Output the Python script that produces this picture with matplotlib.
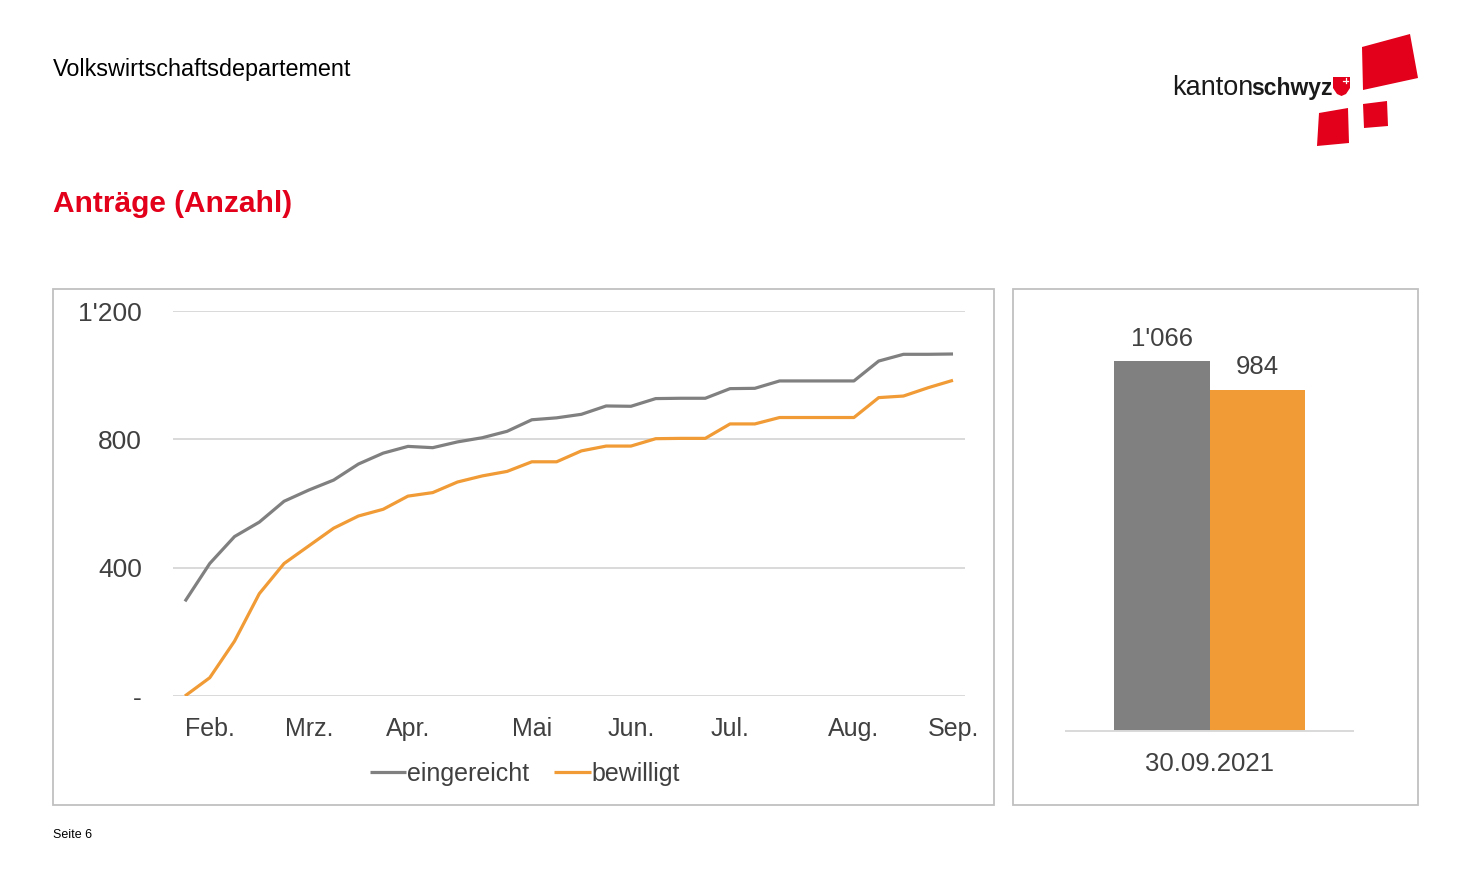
import matplotlib
matplotlib.use("Agg")
import matplotlib.pyplot as plt
from matplotlib.patches import Rectangle, Polygon
from matplotlib.lines import Line2D

plt.rcParams['font.family'] = ['Liberation Sans Narrow', 'Liberation Sans', 'DejaVu Sans']

# weekly cumulative counts, Feb - Sep 2021
eingereicht = [295, 413, 497, 542, 607, 642, 673, 723, 757, 778, 774, 792, 805, 825,
               861, 867, 878, 904, 903, 927, 928, 928, 958, 959, 982, 982, 982, 982,
               1044, 1065, 1065, 1066]
bewilligt = [0, 57, 171, 319, 413, 468, 523, 561, 582, 623, 634, 667, 686, 700,
             730, 730, 764, 779, 779, 802, 803, 803, 848, 848, 868, 868, 868, 868,
             930, 935, 961, 984]
month_idx = [1, 5, 9, 14, 18, 22, 27, 31]
month_labels = ["Feb.", "Mrz.", "Apr.", "Mai", "Jun.", "Jul.", "Aug.", "Sep."]
y_ticks = [0, 400, 800, 1200]
y_labels = ["-", "400", "800", "1'200"]

stand = "30.09.2021"
total_values = [1066, 984]
total_labels = ["1'066", "984"]

GRAY = '#808080'
ORANGE = '#F09B35'
TXT = '#404040'
RED = '#E2001A'

W, H = 1483, 891
fig = plt.figure(figsize=(W / 100, H / 100), dpi=100)


def fx(x):
    return x / W


def fy(y):
    return 1 - y / H


def box(x0, y0, x1, y1):
    return [fx(x0), fy(y1), fx(x1) - fx(x0), fy(y0) - fy(y1)]


# panel frames
for x0, x1 in [(53, 994), (1013, 1418)]:
    fig.patches.append(Rectangle((fx(x0), fy(805)), fx(x1) - fx(x0), fy(289) - fy(805),
                                 transform=fig.transFigure, fill=False,
                                 edgecolor='#c0c0c0', lw=1.3))

# line chart
ax = fig.add_axes(box(172.6, 311, 965.4, 696))
x = list(range(len(eingereicht)))
ax.plot(x, eingereicht, color=GRAY, lw=2.3, label="eingereicht", solid_capstyle='butt')
ax.plot(x, bewilligt, color=ORANGE, lw=2.3, label="bewilligt", solid_capstyle='butt')
ax.set_xlim(-0.5, len(x) - 0.5)
ax.set_ylim(0, 1200)
ax.set_yticks(y_ticks)
ax.set_yticklabels(y_labels)
ax.set_xticks(month_idx)
ax.set_xticklabels(month_labels)
ax.grid(axis='y', color='#d9d9d9', lw=1.4)
ax.set_axisbelow(True)
for s in ax.spines.values():
    s.set_visible(False)
ax.tick_params(axis='y', length=0, pad=22, labelsize=19, labelcolor=TXT)
ax.tick_params(axis='x', length=0, pad=15, labelsize=18, labelcolor=TXT)

ax.legend(loc='center', bbox_to_anchor=(fx(525), fy(774)), bbox_transform=fig.transFigure,
          ncol=2, frameon=False, fontsize=18, labelcolor=TXT, handlelength=1.45,
          handletextpad=0.05, columnspacing=1.0)

# bar chart
bx = fig.add_axes(box(1066, 731 - 1200 * 0.347, 1353, 731))
pos = [-0.25, 0.25]
bx.bar(pos, total_values, width=0.5, color=[GRAY, ORANGE])
bx.set_xlim(-0.75, 0.75)
bx.set_ylim(0, 1200)
for p, v, t in zip(pos, total_values, total_labels):
    bx.text(p, v + 30, t, ha='center', va='bottom', fontsize=18.5, color=TXT)
bx.set_xticks([0])
bx.set_xticklabels([stand])
bx.set_yticks([])
for k in ['top', 'left', 'right']:
    bx.spines[k].set_visible(False)
bx.spines['bottom'].set_color('#d9d9d9')
bx.spines['bottom'].set_linewidth(1.4)
bx.tick_params(axis='x', length=0, pad=15, labelsize=18.5, labelcolor=TXT)

# header
fig.text(fx(53), fy(76), "Volkswirtschaftsdepartement", fontsize=16.8, color='black',
         ha='left', va='baseline')
fig.text(fx(53), fy(212), "Anträge (Anzahl)", fontsize=21.5, color=RED, weight='bold',
         ha='left', va='baseline')
fig.text(fx(53), fy(838), "Seite 6", fontsize=9, color='black', ha='left', va='baseline')

# logo
fig.text(fx(1172), fy(95), "kanton", fontsize=19.5, color='#1a1a1a', ha='left', va='baseline')
fig.text(fx(1251), fy(95), "schwyz", fontsize=16.5, color='#1a1a1a', weight='bold',
         ha='left', va='baseline')
quads = [
    [(1362, 47), (1410, 34), (1418, 78), (1363, 90)],
    [(1319, 113), (1348, 108), (1349, 143), (1317, 146)],
    [(1363, 104), (1387, 101), (1388, 126), (1364, 128)],
    [(1333, 77), (1350, 77), (1350, 88), (1346, 94), (1341.5, 96), (1337, 94), (1333, 88)],
]
for q in quads:
    fig.patches.append(Polygon([(fx(a), fy(b)) for a, b in q], closed=True,
                               transform=fig.transFigure, color=RED, lw=0))
fig.lines.append(Line2D([fx(1343), fx(1348)], [fy(80.5), fy(80.5)], transform=fig.transFigure,
                        color='white', lw=0.9))
fig.lines.append(Line2D([fx(1345.5), fx(1345.5)], [fy(78), fy(83)], transform=fig.transFigure,
                        color='white', lw=0.9))

fig.savefig("out.png", dpi=100)
